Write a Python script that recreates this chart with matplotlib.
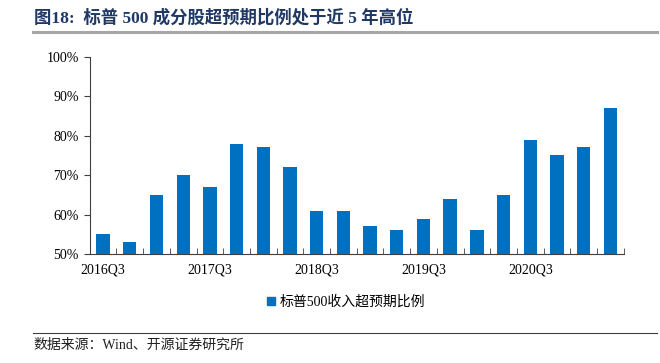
import numpy as np
import matplotlib.pyplot as plt
from matplotlib.lines import Line2D

# data
quarters = ["2016Q3", "2016Q4", "2017Q1", "2017Q2", "2017Q3", "2017Q4",
            "2018Q1", "2018Q2", "2018Q3", "2018Q4", "2019Q1", "2019Q2",
            "2019Q3", "2019Q4", "2020Q1", "2020Q2", "2020Q3", "2020Q4",
            "2021Q1", "2021Q2"]
beat_ratio = [55, 53, 65, 70, 67, 78, 77, 72, 61, 61, 57, 56,
              59, 64, 56, 65, 79, 75, 77, 87]
y_ticks = [50, 60, 70, 80, 90, 100]

fonts = ["Liberation Serif", "Noto Sans CJK SC", "DejaVu Sans"]
plt.rcParams["font.family"] = fonts

bar_color = "#0070C0"
title_color = "#1F3864"

fig = plt.figure(figsize=(6.6, 3.63), dpi=100)
ax = fig.add_axes([0.136, 0.300, 0.809, 0.544])

x = np.arange(len(quarters))
ax.bar(x, beat_ratio, width=0.5, color=bar_color)

ax.set_xlim(-0.5, len(quarters) - 0.5)
ax.set_ylim(50, 100)
ax.set_yticks(y_ticks)
ax.set_yticklabels([f"{v}%" for v in y_ticks], fontsize=10)

# labels every 4 quarters at bar centres, ticks at bar boundaries
ax.set_xticks(x[::4])
ax.set_xticklabels(quarters[::4], fontsize=10)
ax.tick_params(axis="x", which="major", length=0, pad=7)
ax.set_xticks(np.arange(len(quarters) + 1) - 0.5, minor=True)
ax.tick_params(axis="x", which="minor", length=4, direction="in", color="#404040")
ax.tick_params(axis="y", length=4, direction="out", color="#404040", pad=4)

for side in ["top", "right"]:
    ax.spines[side].set_visible(False)
ax.spines["left"].set_color("#404040")
ax.spines["bottom"].set_color("#404040")

# legend
handle = Line2D([], [], marker="s", linestyle="none", markersize=6,
                color=bar_color)
fig.legend([handle], ["标普500收入超预期比例"], loc="center",
           bbox_to_anchor=(0.522, 0.168), frameon=False,
           handletextpad=0.1, handlelength=1.0,
           prop={"family": fonts, "size": 10})

# title and source
fig.text(0.052, 0.950, "图18:  标普 500 成分股超预期比例处于近 5 年高位",
         fontsize=12.5, fontweight="bold", color=title_color, va="center")
fig.add_artist(Line2D([0.050, 0.995], [0.913, 0.913], color="#A6A6A6",
                      linewidth=2.2))
fig.add_artist(Line2D([0.050, 0.995], [0.083, 0.083], color="#404040",
                      linewidth=0.8))
fig.text(0.050, 0.048, "数据来源：Wind、开源证券研究所", fontsize=10,
         color="#202020", va="center")

fig.savefig("out.png", dpi=100)
